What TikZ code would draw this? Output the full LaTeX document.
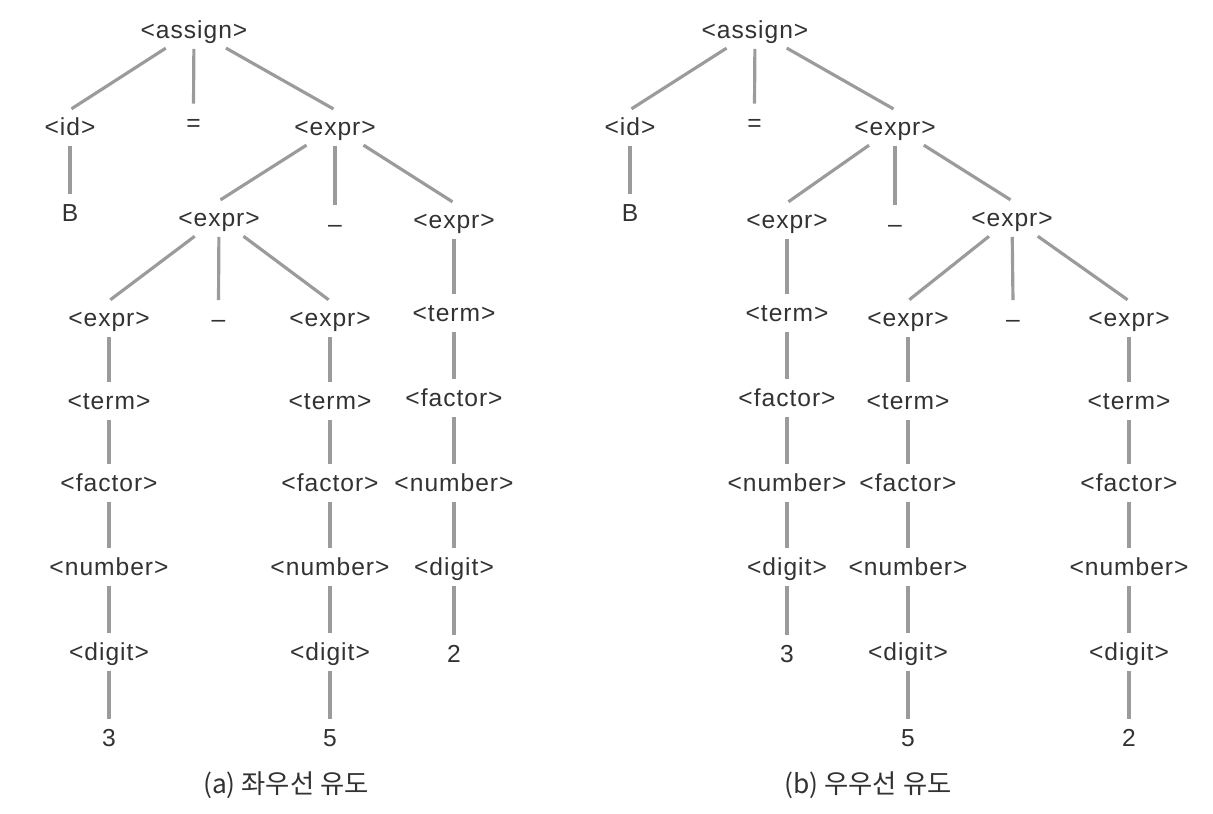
\documentclass[tikz,border=0pt]{standalone}
\usepackage{fontspec}
\setmainfont{Liberation Sans}[LetterSpace=4]
\newfontfamily\krfont{Noto Sans CJK KR}
\usepackage{xcolor}
\usepackage{tikz}
\usetikzlibrary{positioning}
\definecolor{TextGray}{RGB}{50,50,50}
\definecolor{LineGray}{RGB}{155,155,155}
\tikzset{
    sym_node/.style={inner xsep=2pt, inner ysep=2.6pt, text height=11.9pt, text depth=2.1pt, text=TextGray, font=\fontsize{14}{16}\selectfont},
    edge_line/.style={draw=LineGray, line width=1.8pt, shorten <=1pt, shorten >=1pt}
}

\begin{document}
\begin{tikzpicture}[
        x=0.02cm, y=-0.02cm,
        % --- CAPTION ---
        cap_node/.style={text=TextGray, font=\krfont\fontsize{15}{17}\selectfont}
    ]
    \useasboundingbox (0,0) rectangle (1213,814);

    % --- (a) LEFT TREE ---
    \node[sym_node] (aroot) at (194,30) {<assign>};
    \node[sym_node] (aid) at (70,127) {<id>};
    \node[sym_node] (aeq) at (193.5,122.5) {=};
    \node[sym_node] (aexpr) at (335,127) {<expr>};
    \node[sym_node] (aB) at (70,213) {B};
    \node[sym_node] (ae1) at (219,218) {<expr>};
    \node[sym_node] (am1) at (335,224) {–};
    \node[sym_node] (ae2) at (454,220) {<expr>};
    \node[sym_node] (ae11) at (109,318) {<expr>};
    \node[sym_node] (am2) at (218.5,319) {–};
    \node[sym_node] (ae12) at (330,318) {<expr>};
    % columns
    \foreach \n/\txt/\y in {at1/term/401, af1/factor/483, an1/number/567, ad1/digit/652}
        \node[sym_node] (\n) at (109,\y) {<\txt>};
    \node[sym_node] (av1) at (109,738) {3};
    \foreach \n/\txt/\y in {at2/term/401, af2/factor/483, an2/number/567, ad2/digit/652}
        \node[sym_node] (\n) at (330,\y) {<\txt>};
    \node[sym_node] (av2) at (330,738) {5};
    \foreach \n/\txt/\y in {at3/term/313, af3/factor/398, an3/number/483, ad3/digit/567}
        \node[sym_node] (\n) at (454,\y) {<\txt>};
    \node[sym_node] (av3) at (454,654) {2};
    \node[cap_node] (capa) at (286,785) {(a) 좌우선 유도};

    % --- (b) RIGHT TREE ---
    \node[sym_node] (broot) at (755,30) {<assign>};
    \node[sym_node] (bid) at (630,127) {<id>};
    \node[sym_node] (beq) at (754.5,122.5) {=};
    \node[sym_node] (bexpr) at (895,127) {<expr>};
    \node[sym_node] (bB) at (630,213) {B};
    \node[sym_node] (be1) at (787,220) {<expr>};
    \node[sym_node] (bm1) at (895,224) {–};
    \node[sym_node] (be2) at (1012,218) {<expr>};
    \node[sym_node] (be21) at (908,318) {<expr>};
    \node[sym_node] (bm2) at (1013,319) {–};
    \node[sym_node] (be22) at (1129,318) {<expr>};
    % columns
    \foreach \n/\txt/\y in {bt1/term/313, bf1/factor/398, bn1/number/483, bd1/digit/567}
        \node[sym_node] (\n) at (787,\y) {<\txt>};
    \node[sym_node] (bv1) at (787,654) {3};
    \foreach \n/\txt/\y in {bt2/term/401, bf2/factor/483, bn2/number/567, bd2/digit/652}
        \node[sym_node] (\n) at (908,\y) {<\txt>};
    \node[sym_node] (bv2) at (908,738) {5};
    \foreach \n/\txt/\y in {bt3/term/401, bf3/factor/483, bn3/number/567, bd3/digit/652}
        \node[sym_node] (\n) at (1129,\y) {<\txt>};
    \node[sym_node] (bv3) at (1129,738) {2};
    \node[cap_node] (capb) at (868,785) {(b) 우우선 유도};

    % --- EDGES ---
    \foreach \p/\c in {aroot/aid, aroot/aeq, aroot/aexpr, aid/aB,
                       aexpr/ae1, aexpr/am1, aexpr/ae2,
                       ae1/ae11, ae1/am2, ae1/ae12,
                       ae11/at1, at1/af1, af1/an1, an1/ad1, ad1/av1,
                       ae12/at2, at2/af2, af2/an2, an2/ad2, ad2/av2,
                       ae2/at3, at3/af3, af3/an3, an3/ad3, ad3/av3,
                       broot/bid, broot/beq, broot/bexpr, bid/bB,
                       bexpr/be1, bexpr/bm1, bexpr/be2,
                       be2/be21, be2/bm2, be2/be22,
                       be1/bt1, bt1/bf1, bf1/bn1, bn1/bd1, bd1/bv1,
                       be21/bt2, bt2/bf2, bf2/bn2, bn2/bd2, bd2/bv2,
                       be22/bt3, bt3/bf3, bf3/bn3, bn3/bd3, bd3/bv3}
        \draw[edge_line] (\p) -- (\c.north);

\end{tikzpicture}
\end{document}
